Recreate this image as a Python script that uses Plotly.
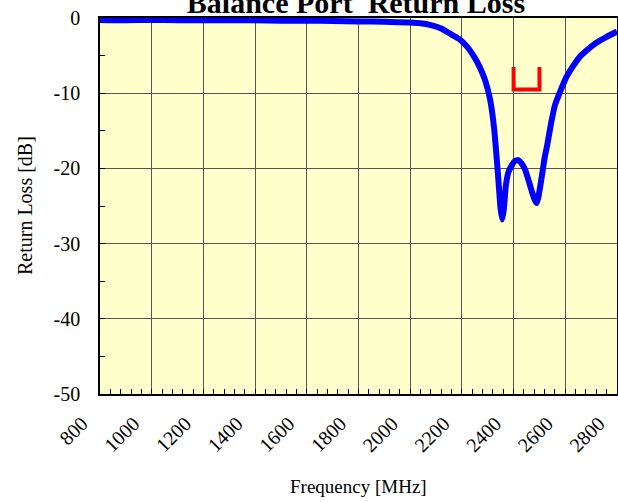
import plotly.graph_objects as go

freq = [800, 900, 1000, 1100, 1200, 1300, 1400, 1500, 1600, 1700, 1800, 1900, 1950, 2000,
        2040, 2080, 2120, 2160, 2190, 2220, 2250, 2270, 2290, 2310, 2325, 2340, 2350, 2356,
        2362, 2370, 2380, 2393, 2405, 2418, 2430, 2444, 2458, 2470, 2482, 2489, 2496, 2509,
        2520, 2530, 2545, 2560, 2580, 2605, 2630, 2660, 2690, 2720, 2760, 2800]
return_loss = [-0.25, -0.3, -0.25, -0.3, -0.3, -0.3, -0.3, -0.35, -0.35, -0.4, -0.45, -0.5, -0.55, -0.6,
               -0.7, -0.95, -1.4, -2.2, -2.8, -3.8, -5.3, -6.6, -8.3, -11.0, -14.8, -21.0, -25.5, -26.8,
               -25.5, -22.3, -20.5, -19.6, -19.0, -18.9, -19.3, -20.1, -21.6, -23.0, -24.2, -24.6, -23.8, -21.1,
               -18.6, -16.9, -14.0, -11.6, -9.8, -7.8, -6.4, -5.0, -4.1, -3.3, -2.5, -1.8]

spec_freq = [2400, 2400, 2500, 2500]
spec_level = [-6.5, -9.5, -9.5, -6.5]

x_ticks = [800, 1000, 1200, 1400, 1600, 1800, 2000, 2200, 2400, 2600, 2800]
y_ticks = [0, -10, -20, -30, -40, -50]

FONT = "Liberation Serif, Times New Roman, serif"

fig = go.Figure()
fig.add_trace(go.Scatter(x=freq, y=return_loss, mode="lines",
                         line=dict(color="#0000FF", width=6, shape="spline", smoothing=0.5),
                         showlegend=False, hoverinfo="skip"))
fig.add_trace(go.Scatter(x=spec_freq, y=spec_level, mode="lines",
                         line=dict(color="#FF0000", width=4),
                         showlegend=False, hoverinfo="skip"))

fig.update_layout(
    width=618, height=502,
    margin=dict(l=100, r=1, t=18, b=108, autoexpand=False),
    paper_bgcolor="white",
    plot_bgcolor="#FFFFCC",
    font=dict(family=FONT, color="black", size=19),
    title=dict(text="<b>Balance Port  Return Loss</b>", x=356 / 618, xanchor="center",
               y=1 - 13 / 502, yanchor="bottom", yref="container",
               font=dict(family=FONT, size=30, color="black")),
    annotations=[
        dict(text="Frequency [MHz]", x=0.5, y=-0.245, xref="paper", yref="paper",
             xanchor="center", yanchor="middle", showarrow=False,
             font=dict(family=FONT, size=19)),
        dict(text="Return Loss [dB]", x=-0.145, y=0.5, xref="paper", yref="paper",
             xanchor="center", yanchor="middle", showarrow=False, textangle=-90,
             font=dict(family=FONT, size=20)),
    ],
)

fig.update_xaxes(
    range=[800, 2800], tickmode="array", tickvals=x_ticks, ticktext=[str(v) for v in x_ticks],
    tickangle=-45, ticks="inside", ticklen=5, tickcolor="black", automargin=False,
    showgrid=True, gridcolor="#555555", gridwidth=1,
    showline=True, linecolor="black", linewidth=2, mirror=True,
    zeroline=False, ticklabelstandoff=8, ticklabelshift=-18, ticklabeloverflow="allow",
    minor=dict(dtick=40, tick0=800, ticks="inside", ticklen=5, tickcolor="black", showgrid=False),
    tickfont=dict(family=FONT, size=20),
)
fig.update_yaxes(
    range=[-50, 0], tickmode="array", tickvals=y_ticks, ticktext=[str(v) for v in y_ticks],
    ticks="inside", ticklen=5, tickcolor="black", automargin=False,
    showgrid=True, gridcolor="#555555", gridwidth=1,
    showline=True, linecolor="black", linewidth=1.5, mirror=True,
    zeroline=False, ticklabelstandoff=14, ticklabeloverflow="allow",
    minor=dict(dtick=5, tick0=0, ticks="inside", ticklen=5, tickcolor="black", showgrid=False),
    tickfont=dict(family=FONT, size=20),
)

fig.write_html("out.html", config={"displayModeBar": False},
               post_script="document.body.style.margin='0';document.body.style.overflow='hidden';")
